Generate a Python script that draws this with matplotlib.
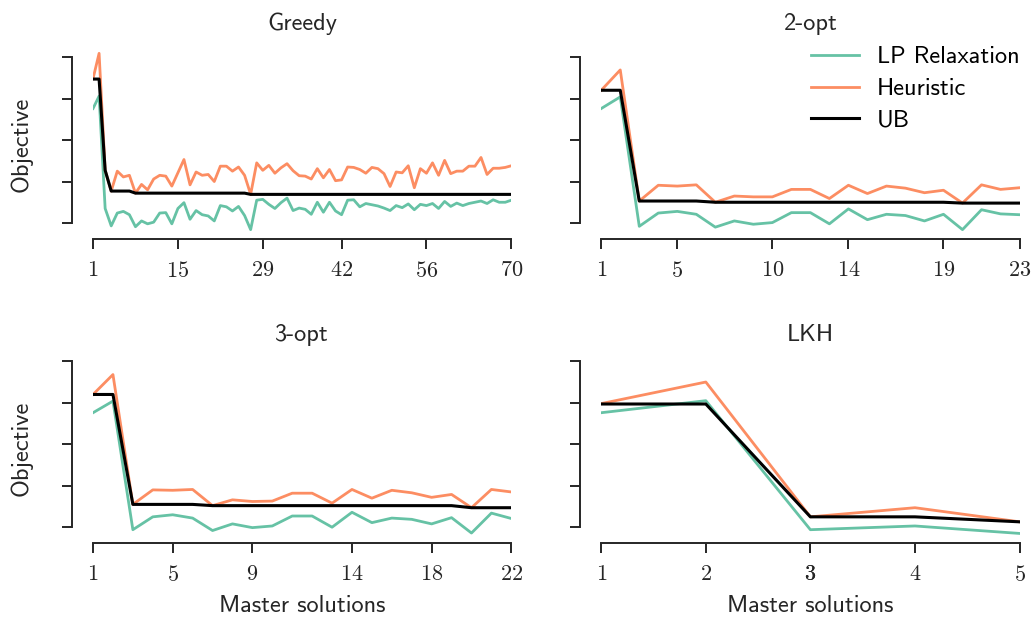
import numpy as np
import matplotlib.pyplot as plt

# Fonts: CM sans for text, CM roman (mathtext) for tick numbers
plt.rcParams['font.family'] = ['cmss10', 'DejaVu Sans']
plt.rcParams['mathtext.fontset'] = 'cm'
plt.rcParams['axes.unicode_minus'] = False

DPI = 100
GREEN = '#66c2a5'
ORANGE = '#fc8d62'
DARK = '#262626'

# ---- data (objective, in y-tick units) ----
greedy_lp = [2.77, 3.07, 0.36, -0.06, 0.25, 0.29, 0.21, -0.08, 0.06, -0.01,
             0.03, 0.25, 0.26, -0.01, 0.36, 0.50, 0.10, 0.31, 0.21, 0.18,
             0.06, 0.43, 0.40, 0.30, 0.41, 0.19, -0.15, 0.56, 0.58, 0.46,
             0.36, 0.50, 0.61, 0.31, 0.37, 0.34, 0.22, 0.51, 0.27, 0.51,
             0.30, 0.21, 0.56, 0.57, 0.40, 0.48, 0.45, 0.42, 0.37, 0.31,
             0.43, 0.38, 0.47, 0.33, 0.46, 0.43, 0.48, 0.36, 0.53, 0.41,
             0.49, 0.43, 0.48, 0.51, 0.54, 0.48, 0.57, 0.51, 0.51, 0.56]
greedy_heur = [3.49, 4.10, 1.28, 0.78, 1.26, 1.12, 1.16, 0.73, 0.94, 0.81,
               1.07, 1.16, 1.14, 0.90, 1.22, 1.54, 0.93, 1.24, 1.16, 1.18,
               1.01, 1.38, 1.38, 1.26, 1.36, 1.16, 0.70, 1.46, 1.28, 1.40,
               1.21, 1.34, 1.44, 1.27, 1.15, 1.14, 1.07, 1.32, 1.10, 1.30,
               1.03, 1.05, 1.36, 1.35, 1.30, 1.21, 1.35, 1.32, 1.20, 0.89,
               1.24, 1.22, 1.39, 0.86, 1.32, 1.21, 1.46, 1.16, 1.52, 1.20,
               1.26, 1.26, 1.38, 1.38, 1.59, 1.18, 1.33, 1.33, 1.35, 1.39]
greedy_ub = [3.48, 3.48, 1.28, 0.78, 0.78, 0.78, 0.78, 0.73, 0.73, 0.73,
             0.73, 0.73, 0.73, 0.73, 0.73, 0.73, 0.73, 0.73, 0.73, 0.73,
             0.73, 0.73, 0.73, 0.73, 0.73, 0.73, 0.70, 0.70, 0.70, 0.70,
             0.70, 0.70, 0.70, 0.70, 0.70, 0.70, 0.70, 0.70, 0.70, 0.70,
             0.70, 0.70, 0.70, 0.70, 0.70, 0.70, 0.70, 0.70, 0.70, 0.70,
             0.70, 0.70, 0.70, 0.70, 0.70, 0.70, 0.70, 0.70, 0.70, 0.70,
             0.70, 0.70, 0.70, 0.70, 0.70, 0.70, 0.70, 0.70, 0.70, 0.70]
greedy_ticks = [1, 15, 29, 42, 56, 70]

opt2_lp = [2.77, 3.05, -0.07, 0.25, 0.29, 0.22, -0.09, 0.06, -0.02, 0.02, 0.26, 0.26,
           -0.01, 0.35, 0.09, 0.22, 0.19, 0.06, 0.22, -0.15, 0.33, 0.23, 0.21]
opt2_heur = [3.21, 3.70, 0.54, 0.92, 0.90, 0.93, 0.51, 0.66, 0.64, 0.64, 0.82, 0.82,
             0.60, 0.92, 0.72, 0.90, 0.85, 0.74, 0.80, 0.49, 0.93, 0.82, 0.86]
opt2_ub = [3.21, 3.21, 0.54, 0.54, 0.54, 0.54, 0.51, 0.51, 0.51, 0.51, 0.51, 0.51,
           0.51, 0.51, 0.51, 0.51, 0.51, 0.51, 0.51, 0.49, 0.49, 0.49, 0.49]
opt2_ticks = [1, 5, 10, 14, 19, 23]

opt3_lp = [2.76, 3.04, -0.06, 0.25, 0.30, 0.22, -0.08, 0.08, -0.01, 0.03, 0.27,
           0.27, 0.00, 0.36, 0.11, 0.22, 0.19, 0.08, 0.23, -0.14, 0.34, 0.21]
opt3_heur = [3.20, 3.68, 0.55, 0.90, 0.89, 0.91, 0.52, 0.66, 0.62, 0.63, 0.82,
             0.82, 0.58, 0.91, 0.70, 0.89, 0.83, 0.72, 0.79, 0.47, 0.91, 0.85]
opt3_ub = [3.20, 3.20, 0.55, 0.55, 0.55, 0.55, 0.52, 0.52, 0.52, 0.52, 0.52,
           0.52, 0.52, 0.52, 0.52, 0.52, 0.52, 0.52, 0.52, 0.47, 0.47, 0.47]
opt3_ticks = [1, 5, 9, 14, 18, 22]

lkh_lp = [2.76, 3.05, -0.06, 0.03, -0.15]
lkh_heur = [2.98, 3.50, 0.25, 0.47, 0.13]
lkh_ub = [2.97, 2.97, 0.25, 0.25, 0.13]
lkh_ticks = [1, 2, 3, 3, 4, 5]

titles = ['Greedy', '2-opt', '3-opt', 'LKH']
series = [(greedy_lp, greedy_heur, greedy_ub, greedy_ticks),
          (opt2_lp, opt2_heur, opt2_ub, opt2_ticks),
          (opt3_lp, opt3_heur, opt3_ub, opt3_ticks),
          (lkh_lp, lkh_heur, lkh_ub, lkh_ticks)]

fig, axes = plt.subplots(2, 2, figsize=(10.36, 6.18), dpi=DPI)
fig.subplots_adjust(left=0.0898, right=0.9841, top=0.9204, bottom=0.1214,
                    wspace=0.215, hspace=0.599)

for k, ax in enumerate(axes.flat):
    lp, heur, ub, ticks = series[k]
    x = np.arange(1, len(lp) + 1)
    ax.plot(x, lp, color=GREEN, lw=2.0, label='LP Relaxation')
    ax.plot(x, heur, color=ORANGE, lw=2.0, label='Heuristic')
    ax.plot(x, ub, color='black', lw=2.2, label='UB')

    ax.set_xlim(1, len(lp))
    ax.set_ylim(-0.38, 4.2)
    ax.set_xticks(ticks, [f'${t}$' for t in ticks])
    ax.set_yticks([0, 1, 2, 3, 4], [])

    # despine + offset/trim look
    for s in ['top', 'right']:
        ax.spines[s].set_visible(False)
    ax.spines['left'].set_position(('outward', 15.2))
    ax.spines['left'].set_bounds(0, 4)
    ax.spines['bottom'].set_bounds(1, len(lp))
    for s in ['left', 'bottom']:
        ax.spines[s].set_linewidth(1.4)
        ax.spines[s].set_color(DARK)
    ax.tick_params(axis='both', length=7.5, width=1.4, color=DARK,
                   labelcolor=DARK, labelsize=16)
    ax.tick_params(axis='x', pad=8.5)

    pad = 13.8 if k < 2 else 8.8
    ax.set_title(titles[k], fontsize=17.5, color=DARK, pad=pad)
    if k % 2 == 0:
        ax.set_ylabel('Objective', fontsize=17.5, color=DARK)
        ax.yaxis.set_label_coords(-0.144, 0.5)
    if k >= 2:
        ax.set_xlabel('Master solutions', fontsize=17.5, color=DARK, labelpad=7)

axes[0, 1].legend(loc='upper right', bbox_to_anchor=(1.0, 1.015), frameon=False,
                  fontsize=17.5, borderpad=0, borderaxespad=0, handlelength=1.96,
                  handletextpad=0.75, labelspacing=0.4)

fig.savefig('out.png', dpi=DPI)
